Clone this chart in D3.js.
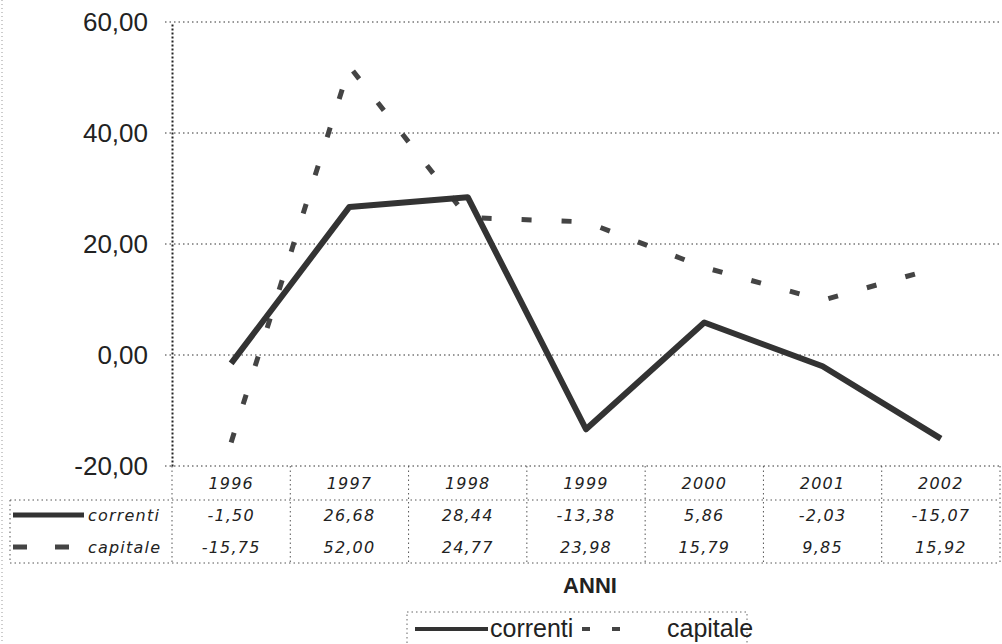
<!DOCTYPE html>
<html>
<head>
<meta charset="utf-8">
<script src="https://cdn.jsdelivr.net/npm/d3@7"></script>
<style>
  body { margin: 0; background: #fff; }
  svg { display: block; }
  .ytick text { font-family: "Liberation Sans", Arial, sans-serif; font-size: 26px; fill: #222; }
  .cell { font-family: "DejaVu Sans", sans-serif; font-style: italic; font-size: 16px; fill: #222; letter-spacing: 1.2px; }
</style>
</head>
<body>
<script>
(function(){

//data
var years = ["1996", "1997", "1998", "1999", "2000", "2001", "2002"];
var correnti = [-1.50, 26.68, 28.44, -13.38, 5.86, -2.03, -15.07];
var capitale = [-15.75, 52.00, 24.77, 23.98, 15.79, 9.85, 15.92];
var seriesNames = ["correnti", "capitale"];
var yTicks = [-20, 0, 20, 40, 60];
var axisTitle = "ANNI";

//frame
var width = 1002, height = 644,
    plotLeft = 172, plotRight = 1000, plotTop = 22, plotBottom = 466,
    rowH = 32, tableLeft = 10;

var it = d3.formatLocale({decimal: ",", thousands: ".", grouping: [3], currency: ["", "€"], minus: "-"});
var fmt = it.format(".2f");

var svg = d3.select("body").append("svg")
    .attr("width", width)
    .attr("height", height);

var x = d3.scaleBand().domain(years).range([plotLeft, plotRight]);
var y = d3.scaleLinear().domain([-20, 60]).range([plotBottom, plotTop]);
var cx = function(d, i){ return x(years[i]) + x.bandwidth() / 2; };

//page edge
svg.append("line")
    .attr("x1", 2).attr("x2", 2).attr("y1", 0).attr("y2", height)
    .attr("stroke", "#999").attr("stroke-dasharray", "1,3");

//horizontal gridlines
svg.selectAll(".grid")
    .data(yTicks)
    .enter()
    .append("line")
    .attr("class", "grid")
    .attr("x1", plotLeft - 7).attr("x2", plotRight)
    .attr("y1", function(d){ return y(d); })
    .attr("y2", function(d){ return y(d); })
    .attr("stroke", "#333")
    .attr("stroke-width", 1)
    .attr("stroke-dasharray", "1.5,3");

//y axis
var yAxis = svg.append("g")
    .attr("class", "ytick")
    .attr("transform", "translate(" + plotLeft + ",0)")
    .call(d3.axisLeft(y).tickValues(yTicks).tickFormat(fmt).tickSize(0).tickPadding(24));
yAxis.select(".domain")
    .attr("stroke", "#222")
    .attr("stroke-width", 2)
    .attr("stroke-dasharray", "2,2");

//lines
var line = d3.line()
    .x(cx)
    .y(function(d){ return y(d); });

svg.append("path")
    .datum(capitale)
    .attr("d", line)
    .attr("fill", "none")
    .attr("stroke", "#444")
    .attr("stroke-width", 5)
    .attr("stroke-dasharray", "10,30");

svg.append("path")
    .datum(correnti)
    .attr("d", line)
    .attr("fill", "none")
    .attr("stroke", "#333")
    .attr("stroke-width", 6)
    .attr("stroke-linejoin", "round");

//data table
var tableBottom = plotBottom + rowH * 3 + 1;
var rowLines = [plotBottom + rowH + 2, tableBottom];
svg.selectAll(".rowline")
    .data(rowLines)
    .enter()
    .append("line")
    .attr("class", "rowline")
    .attr("x1", tableLeft).attr("x2", plotRight)
    .attr("y1", function(d){ return d; })
    .attr("y2", function(d){ return d; })
    .attr("stroke", "#555")
    .attr("stroke-dasharray", "1.5,3");

var colEdges = years.map(function(d){ return x(d); }).concat([plotRight]);
svg.selectAll(".colline")
    .data(colEdges)
    .enter()
    .append("line")
    .attr("class", "colline")
    .attr("x1", function(d){ return d; })
    .attr("x2", function(d){ return d; })
    .attr("y1", plotBottom)
    .attr("y2", tableBottom)
    .attr("stroke", "#555")
    .attr("stroke-dasharray", "1.5,3");
svg.append("line")
    .attr("x1", tableLeft).attr("x2", tableLeft)
    .attr("y1", rowLines[0]).attr("y2", tableBottom)
    .attr("stroke", "#555")
    .attr("stroke-dasharray", "1.5,3");

svg.selectAll(".yearlab")
    .data(years)
    .enter()
    .append("text")
    .attr("class", "cell")
    .attr("text-anchor", "middle")
    .attr("x", cx)
    .attr("y", plotBottom + 23)
    .text(function(d){ return d; });

var rows = [correnti, capitale];
rows.forEach(function(vals, r){
    var rowY = plotBottom + rowH * (r + 1) + 23;
    svg.selectAll(".val" + r)
        .data(vals)
        .enter()
        .append("text")
        .attr("class", "cell val" + r)
        .attr("text-anchor", "middle")
        .attr("x", cx)
        .attr("y", rowY)
        .text(function(d){ return fmt(d); });

    //row key
    var keyY = rowY - 6;
    if (r === 0){
        svg.append("line")
            .attr("x1", 13).attr("x2", 84).attr("y1", keyY).attr("y2", keyY)
            .attr("stroke", "#333").attr("stroke-width", 5);
    } else {
        svg.append("line")
            .attr("x1", 13).attr("x2", 70).attr("y1", keyY).attr("y2", keyY)
            .attr("stroke", "#444").attr("stroke-width", 5)
            .attr("stroke-dasharray", "14,28");
    }
    svg.append("text")
        .attr("class", "cell")
        .attr("x", 88)
        .attr("y", rowY)
        .text(seriesNames[r]);
});

//axis title
svg.append("text")
    .attr("x", (plotLeft + plotRight) / 2 + 4)
    .attr("y", 593)
    .attr("text-anchor", "middle")
    .style("font-family", "'Liberation Sans', Arial, sans-serif")
    .style("font-weight", "bold")
    .style("font-size", "22px")
    .style("fill", "#222")
    .text(axisTitle);

//legend
var legend = svg.append("g").attr("transform", "translate(407,612)");
legend.append("rect")
    .attr("x", 0).attr("y", 0).attr("width", 340).attr("height", 40)
    .attr("fill", "none")
    .attr("stroke", "#666")
    .attr("stroke-dasharray", "1.5,3");
legend.append("line")
    .attr("x1", 8).attr("x2", 81).attr("y1", 17).attr("y2", 17)
    .attr("stroke", "#333").attr("stroke-width", 4);
legend.append("text")
    .attr("x", 83).attr("y", 25)
    .style("font-family", "'Liberation Sans', Arial, sans-serif")
    .style("font-size", "25px")
    .style("fill", "#222")
    .text(seriesNames[0]);
legend.append("line")
    .attr("x1", 175).attr("x2", 214).attr("y1", 17).attr("y2", 17)
    .attr("stroke", "#444").attr("stroke-width", 4)
    .attr("stroke-dasharray", "8,22");
legend.append("text")
    .attr("x", 260).attr("y", 25)
    .style("font-family", "'Liberation Sans', Arial, sans-serif")
    .style("font-size", "25px")
    .style("fill", "#222")
    .text(seriesNames[1]);

})();
</script>
</body>
</html>
